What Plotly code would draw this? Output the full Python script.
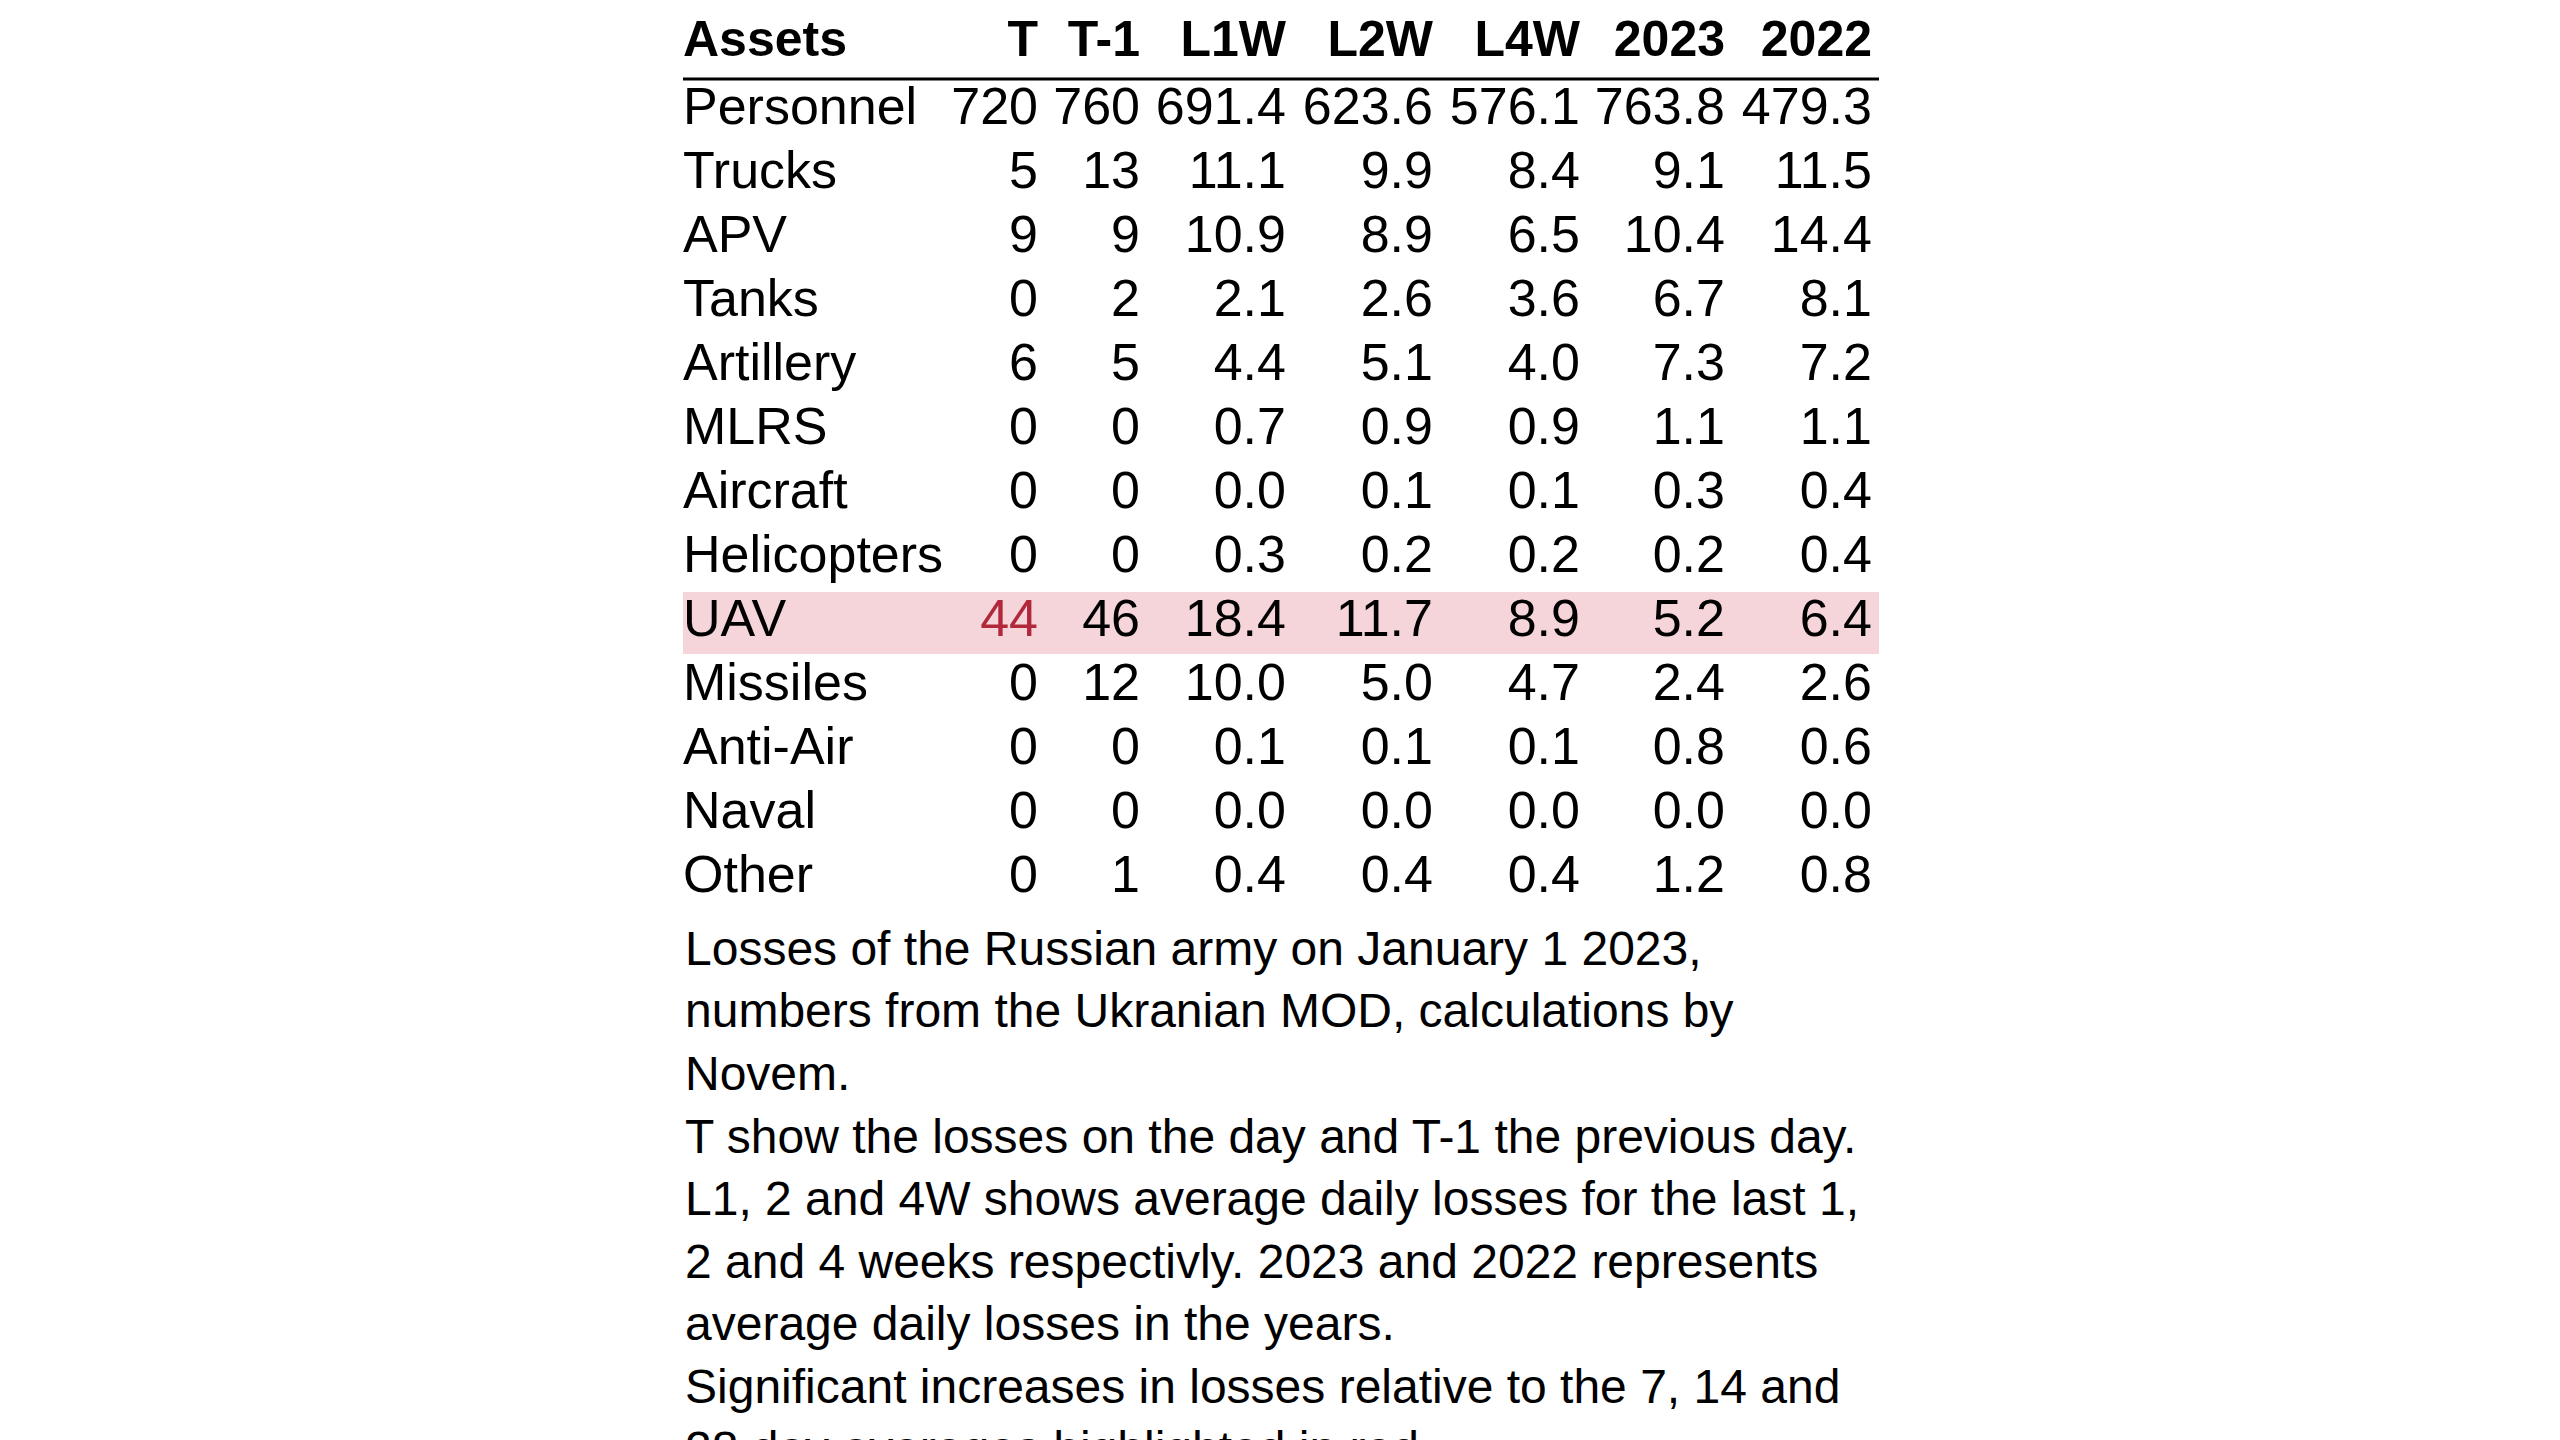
import plotly.graph_objects as go

assets = ["Personnel", "Trucks", "APV", "Tanks", "Artillery", "MLRS", "Aircraft",
          "Helicopters", "UAV", "Missiles", "Anti-Air", "Naval", "Other"]
columns = ["T", "T-1", "L1W", "L2W", "L4W", "2023", "2022"]
t_vals = ["720", "5", "9", "0", "6", "0", "0", "0", "44", "0", "0", "0", "0"]
t1_vals = ["760", "13", "9", "2", "5", "0", "0", "0", "46", "12", "0", "0", "1"]
l1w_vals = ["691.4", "11.1", "10.9", "2.1", "4.4", "0.7", "0.0", "0.3", "18.4", "10.0", "0.1", "0.0", "0.4"]
l2w_vals = ["623.6", "9.9", "8.9", "2.6", "5.1", "0.9", "0.1", "0.2", "11.7", "5.0", "0.1", "0.0", "0.4"]
l4w_vals = ["576.1", "8.4", "6.5", "3.6", "4.0", "0.9", "0.1", "0.2", "8.9", "4.7", "0.1", "0.0", "0.4"]
y2023_vals = ["763.8", "9.1", "10.4", "6.7", "7.3", "1.1", "0.3", "0.2", "5.2", "2.4", "0.8", "0.0", "1.2"]
y2022_vals = ["479.3", "11.5", "14.4", "8.1", "7.2", "1.1", "0.4", "0.4", "6.4", "2.6", "0.6", "0.0", "0.8"]
highlight_row = "UAV"
highlight_col = "T"

notes = [
    "Losses of the Russian army on January 1 2023,<br>numbers from the Ukranian MOD, calculations by<br>Novem.",
    "T show the losses on the day and T-1 the previous day.<br>L1, 2 and 4W shows average daily losses for the last 1,<br>2 and 4 weeks respectivly. 2023 and 2022 represents<br>average daily losses in the years.",
    "Significant increases in losses relative to the 7, 14 and<br>28 day averages highlighted in red.",
]

FONT = "Liberation Sans, Arial, sans-serif"
col_data = [t_vals, t1_vals, l1w_vals, l2w_vals, l4w_vals, y2023_vals, y2022_vals]
col_right = [1030, 1132, 1278, 1425, 1572, 1717, 1864]
label_x = 675
row_y = [103 + 64 * i for i in range(len(assets))]
header_y = 35

fig = go.Figure()
fig.add_trace(go.Scatter(x=[label_x] * len(assets), y=row_y, mode="text", text=assets,
                         textposition="middle right", textfont=dict(family=FONT, size=52, color="black")))
for name, vals, xr in zip(columns, col_data, col_right):
    colors = ["#B0283A" if (a == highlight_row and name == highlight_col) else "black" for a in assets]
    fig.add_trace(go.Scatter(x=[xr] * len(vals), y=row_y, mode="text", text=vals,
                             textposition="middle left", textfont=dict(family=FONT, size=52, color=colors)))
fig.add_trace(go.Scatter(x=[label_x] + col_right, y=[header_y] * 8, mode="text",
                         text=["<b>Assets</b>"] + ["<b>%s</b>" % c for c in columns],
                         textposition=["middle right"] + ["middle left"] * 7,
                         textfont=dict(family=FONT, size=50, color="black")))

hi = assets.index(highlight_row)
fig.add_shape(type="rect", x0=label_x, x1=1871, y0=row_y[hi] - 31, y1=row_y[hi] + 31,
              fillcolor="#F5D5DA", line_width=0, layer="below")
fig.add_shape(type="line", x0=label_x, x1=1871, y0=71, y1=71, line=dict(color="black", width=3))

for txt, y in zip(notes, [912, 1100, 1350]):
    fig.add_annotation(x=label_x, y=y, text=txt, showarrow=False, xanchor="left", yanchor="top",
                       align="left", font=dict(family=FONT, size=48, color="black"))

fig.update_layout(width=2560, height=1440, margin=dict(l=0, r=0, t=0, b=0),
                  plot_bgcolor="white", paper_bgcolor="white", showlegend=False,
                  xaxis=dict(range=[0, 2560], visible=False, fixedrange=True),
                  yaxis=dict(range=[1440, 0], visible=False, fixedrange=True))
fig.write_html("out.html")
